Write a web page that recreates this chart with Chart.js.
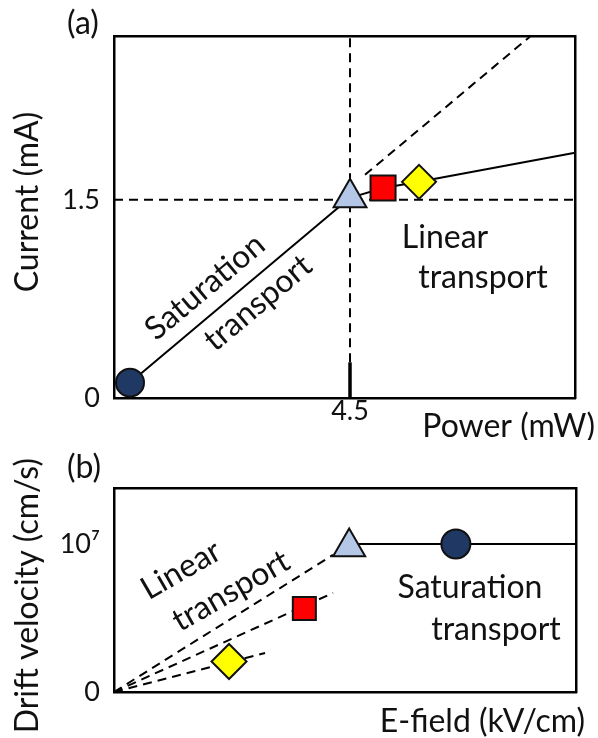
<!DOCTYPE html>
<html><head><meta charset="utf-8">
<script src="https://cdn.jsdelivr.net/npm/chart.js@4"></script>
<style>
html,body{margin:0;padding:0;background:#fff;}
#wrap{position:relative;width:598px;height:738px;overflow:hidden;background:#fff;}
canvas{position:absolute;left:0;}
#ca{top:0;width:598px;height:440px;}
#cb{top:440px;width:598px;height:298px;}
</style></head><body>
<div id="wrap"><canvas id="ca" width="598" height="440"></canvas><canvas id="cb" width="598" height="298"></canvas></div>
<script>
// ---------- Panel (a): Current vs Power ----------
const aXMax = 8.79;
const aYMax = 2.74;
const aXTickValues = [4.5];
const aXTickLabels = ['4.5'];
const aYTickValues = [0, 1.5];
const aYTickLabels = ['0', '1.5'];
const aSatPower   = [0.305, 4.5];
const aSatCurrent = [0.116, 1.515];
const aLinPower   = [4.5, 5.13, 5.816, 8.79];
const aLinCurrent = [1.515, 1.589, 1.636, 1.856];
const aExtPower   = [4.786, 7.93];
const aExtCurrent = [1.689, 2.735];
const aMarkerPower   = [0.305, 4.5, 5.13, 5.816];
const aMarkerCurrent = [0.116, 1.515, 1.589, 1.636];
const aThresholdPower = 4.5;
const aThresholdCurrent = 1.5;
const aSolidStubTop = 0.27;

// ---------- Panel (b): Drift velocity vs E-field ----------
const bXMax = 10;
const bYMax = 1.378;
const bYTickValues = [0, 1];
const bYTickLabels = ['0', '10\u2077'];
const bSatField = [5.09, 10];
const bSatVel   = [1.0, 1.0];
const bUpperField = [0, 4.74];
const bUpperVel   = [0, 0.926];
const bMiddleField = [0, 4.74];
const bMiddleVel   = [0, 0.669];
const bLowerField = [0, 3.27];
const bLowerVel   = [0, 0.264];
const bMarkerField = [7.40, 5.09, 4.12, 2.49];
const bMarkerVel   = [1.0, 0.98, 0.564, 0.206];

const FONT = 'Lato, "Open Sans", sans-serif';
const INK = '#111';
const pts = (xs, ys) => xs.map((x, i) => ({x, y: ys[i]}));

const markerStyles = ['circle', 'triangle', 'rect', 'rectRot'];
const markerFill = ['#203864', '#b4c7e7', '#ff0000', '#ffff00'];

const textPlugin = {
  id: 'texts',
  afterDraw(chart, args, opts) {
    const ctx = chart.ctx;
    for (const t of opts.items) {
      ctx.save();
      ctx.translate(t.x, t.y);
      ctx.rotate((t.angle || 0) * Math.PI / 180);
      ctx.font = `${t.size}px ${FONT}`;
      ctx.fillStyle = INK;
      ctx.textAlign = t.align || 'center';
      ctx.textBaseline = 'middle';
      ctx.fillText(t.text, 0, 0);
      ctx.restore();
    }
  }
};

function lineDs(data, dashed, width, order) {
  return {
    data, showLine: true, borderColor: '#000', borderWidth: width || 2,
    borderDash: dashed ? [9, 6] : [], pointRadius: 0, fill: false,
    order: order || 2, clip: false
  };
}
function markerDs(data, radii) {
  return {
    data, showLine: false, pointStyle: markerStyles, pointRadius: radii,
    pointBackgroundColor: markerFill, pointBorderColor: '#111', pointBorderWidth: 2,
    order: 0, clip: false
  };
}
function frameScale(axis, position, min, max, size) {
  return {
    type: 'linear', axis, position, min, max,
    grid: {display: false, drawTicks: false},
    border: {display: true, color: '#000', width: 2.5},
    ticks: {display: false},
    afterFit: s => { if (axis === 'x') s.height = size; else s.width = size; }
  };
}
const tickFont = {family: FONT, size: 27};
const TS = 32; // annotation/title text size

// ---- Chart A ----
new Chart(document.getElementById('ca'), {
  type: 'scatter',
  data: {
    datasets: [
      markerDs(pts(aMarkerPower, aMarkerCurrent), [14, 19, 17.7, 17]),
      lineDs(pts(aSatPower, aSatCurrent), false, 2),
      lineDs(pts(aLinPower, aLinCurrent), false, 2),
      lineDs(pts(aExtPower, aExtCurrent), true, 2),
      lineDs(pts([0, aXMax], [aThresholdCurrent, aThresholdCurrent]), true, 2),
      lineDs(pts([aThresholdPower, aThresholdPower], [aSolidStubTop, aYMax]), true, 2),
      lineDs(pts([aThresholdPower, aThresholdPower], [0, aSolidStubTop]), false, 3.5)
    ]
  },
  options: {
    responsive: false, animation: false, devicePixelRatio: 1,
    layout: {padding: 0},
    plugins: {
      legend: {display: false}, tooltip: {enabled: false},
      texts: {items: [
        {text: '(a)', x: 67, y: 24, size: TS, align: 'left'},
        {text: 'Current (mA)', x: 28, y: 202, size: TS, angle: -90},
        {text: 'Power (mW)', x: 595, y: 427, size: TS, align: 'right'},
        {text: 'Saturation', x: 205, y: 287, size: TS, angle: -40},
        {text: 'transport', x: 258, y: 303, size: TS, angle: -40},
        {text: 'Linear', x: 445, y: 238, size: TS},
        {text: 'transport', x: 483, y: 278, size: TS}
      ]}
    },
    scales: {
      x: {
        type: 'linear', position: 'bottom', min: 0, max: aXMax,
        grid: {display: false, drawTicks: false},
        border: {display: true, color: '#000', width: 2.5},
        ticks: {font: tickFont, color: INK, padding: -3, autoSkip: false, maxRotation: 0,
                callback: (v) => aXTickLabels[aXTickValues.indexOf(v)]},
        afterBuildTicks: s => { s.ticks = aXTickValues.map(v => ({value: v})); },
        afterFit: s => { s.height = 42; }
      },
      y: {
        type: 'linear', position: 'left', min: 0, max: aYMax,
        grid: {display: false, drawTicks: false},
        border: {display: true, color: '#000', width: 2.5},
        ticks: {font: tickFont, color: INK, padding: 14, autoSkip: false,
                callback: (v) => aYTickLabels[aYTickValues.indexOf(v)]},
        afterBuildTicks: s => { s.ticks = aYTickValues.map(v => ({value: v})); },
        afterFit: s => { s.width = 114; }
      },
      xTop: frameScale('x', 'top', 0, aXMax, 36),
      yRight: frameScale('y', 'right', 0, aYMax, 23)
    }
  },
  plugins: [textPlugin]
});

// ---- Chart B ----
new Chart(document.getElementById('cb'), {
  type: 'scatter',
  data: {
    datasets: [
      markerDs(pts(bMarkerField, bMarkerVel), [14.5, 18.5, 16.3, 17.5]),
      lineDs(pts(bSatField, bSatVel), false, 2),
      lineDs(pts(bUpperField, bUpperVel), true, 2),
      lineDs(pts(bMiddleField, bMiddleVel), true, 2),
      lineDs(pts(bLowerField, bLowerVel), true, 2)
    ]
  },
  options: {
    responsive: false, animation: false, devicePixelRatio: 1,
    layout: {padding: 0},
    plugins: {
      legend: {display: false}, tooltip: {enabled: false},
      texts: {items: [
        {text: '(b)', x: 67, y: 28, size: TS, align: 'left'},
        {text: 'Drift velocity (cm/s)', x: 28, y: 18, size: TS, angle: -90, align: 'right'},
        {text: 'E-field (kV/cm)', x: 585, y: 282, size: TS, align: 'right'},
        {text: 'Linear', x: 181, y: 130, size: TS, angle: -30},
        {text: 'transport', x: 231, y: 151, size: TS, angle: -30},
        {text: 'Saturation', x: 470, y: 148, size: TS},
        {text: 'transport', x: 496, y: 190, size: TS}
      ]}
    },
    scales: {
      x: {
        type: 'linear', position: 'bottom', min: 0, max: bXMax,
        grid: {display: false, drawTicks: false},
        border: {display: true, color: '#000', width: 2.5},
        ticks: {display: false},
        afterFit: s => { s.height = 46; }
      },
      y: {
        type: 'linear', position: 'left', min: 0, max: bYMax,
        grid: {display: false, drawTicks: false},
        border: {display: true, color: '#000', width: 2.5},
        ticks: {font: tickFont, color: INK, padding: 14, autoSkip: false,
                callback: (v) => bYTickLabels[bYTickValues.indexOf(v)]},
        afterBuildTicks: s => { s.ticks = bYTickValues.map(v => ({value: v})); },
        afterFit: s => { s.width = 114; }
      },
      xTop: frameScale('x', 'top', 0, bXMax, 48),
      yRight: frameScale('y', 'right', 0, bYMax, 22)
    }
  },
  plugins: [textPlugin]
});
</script>
</body></html>
